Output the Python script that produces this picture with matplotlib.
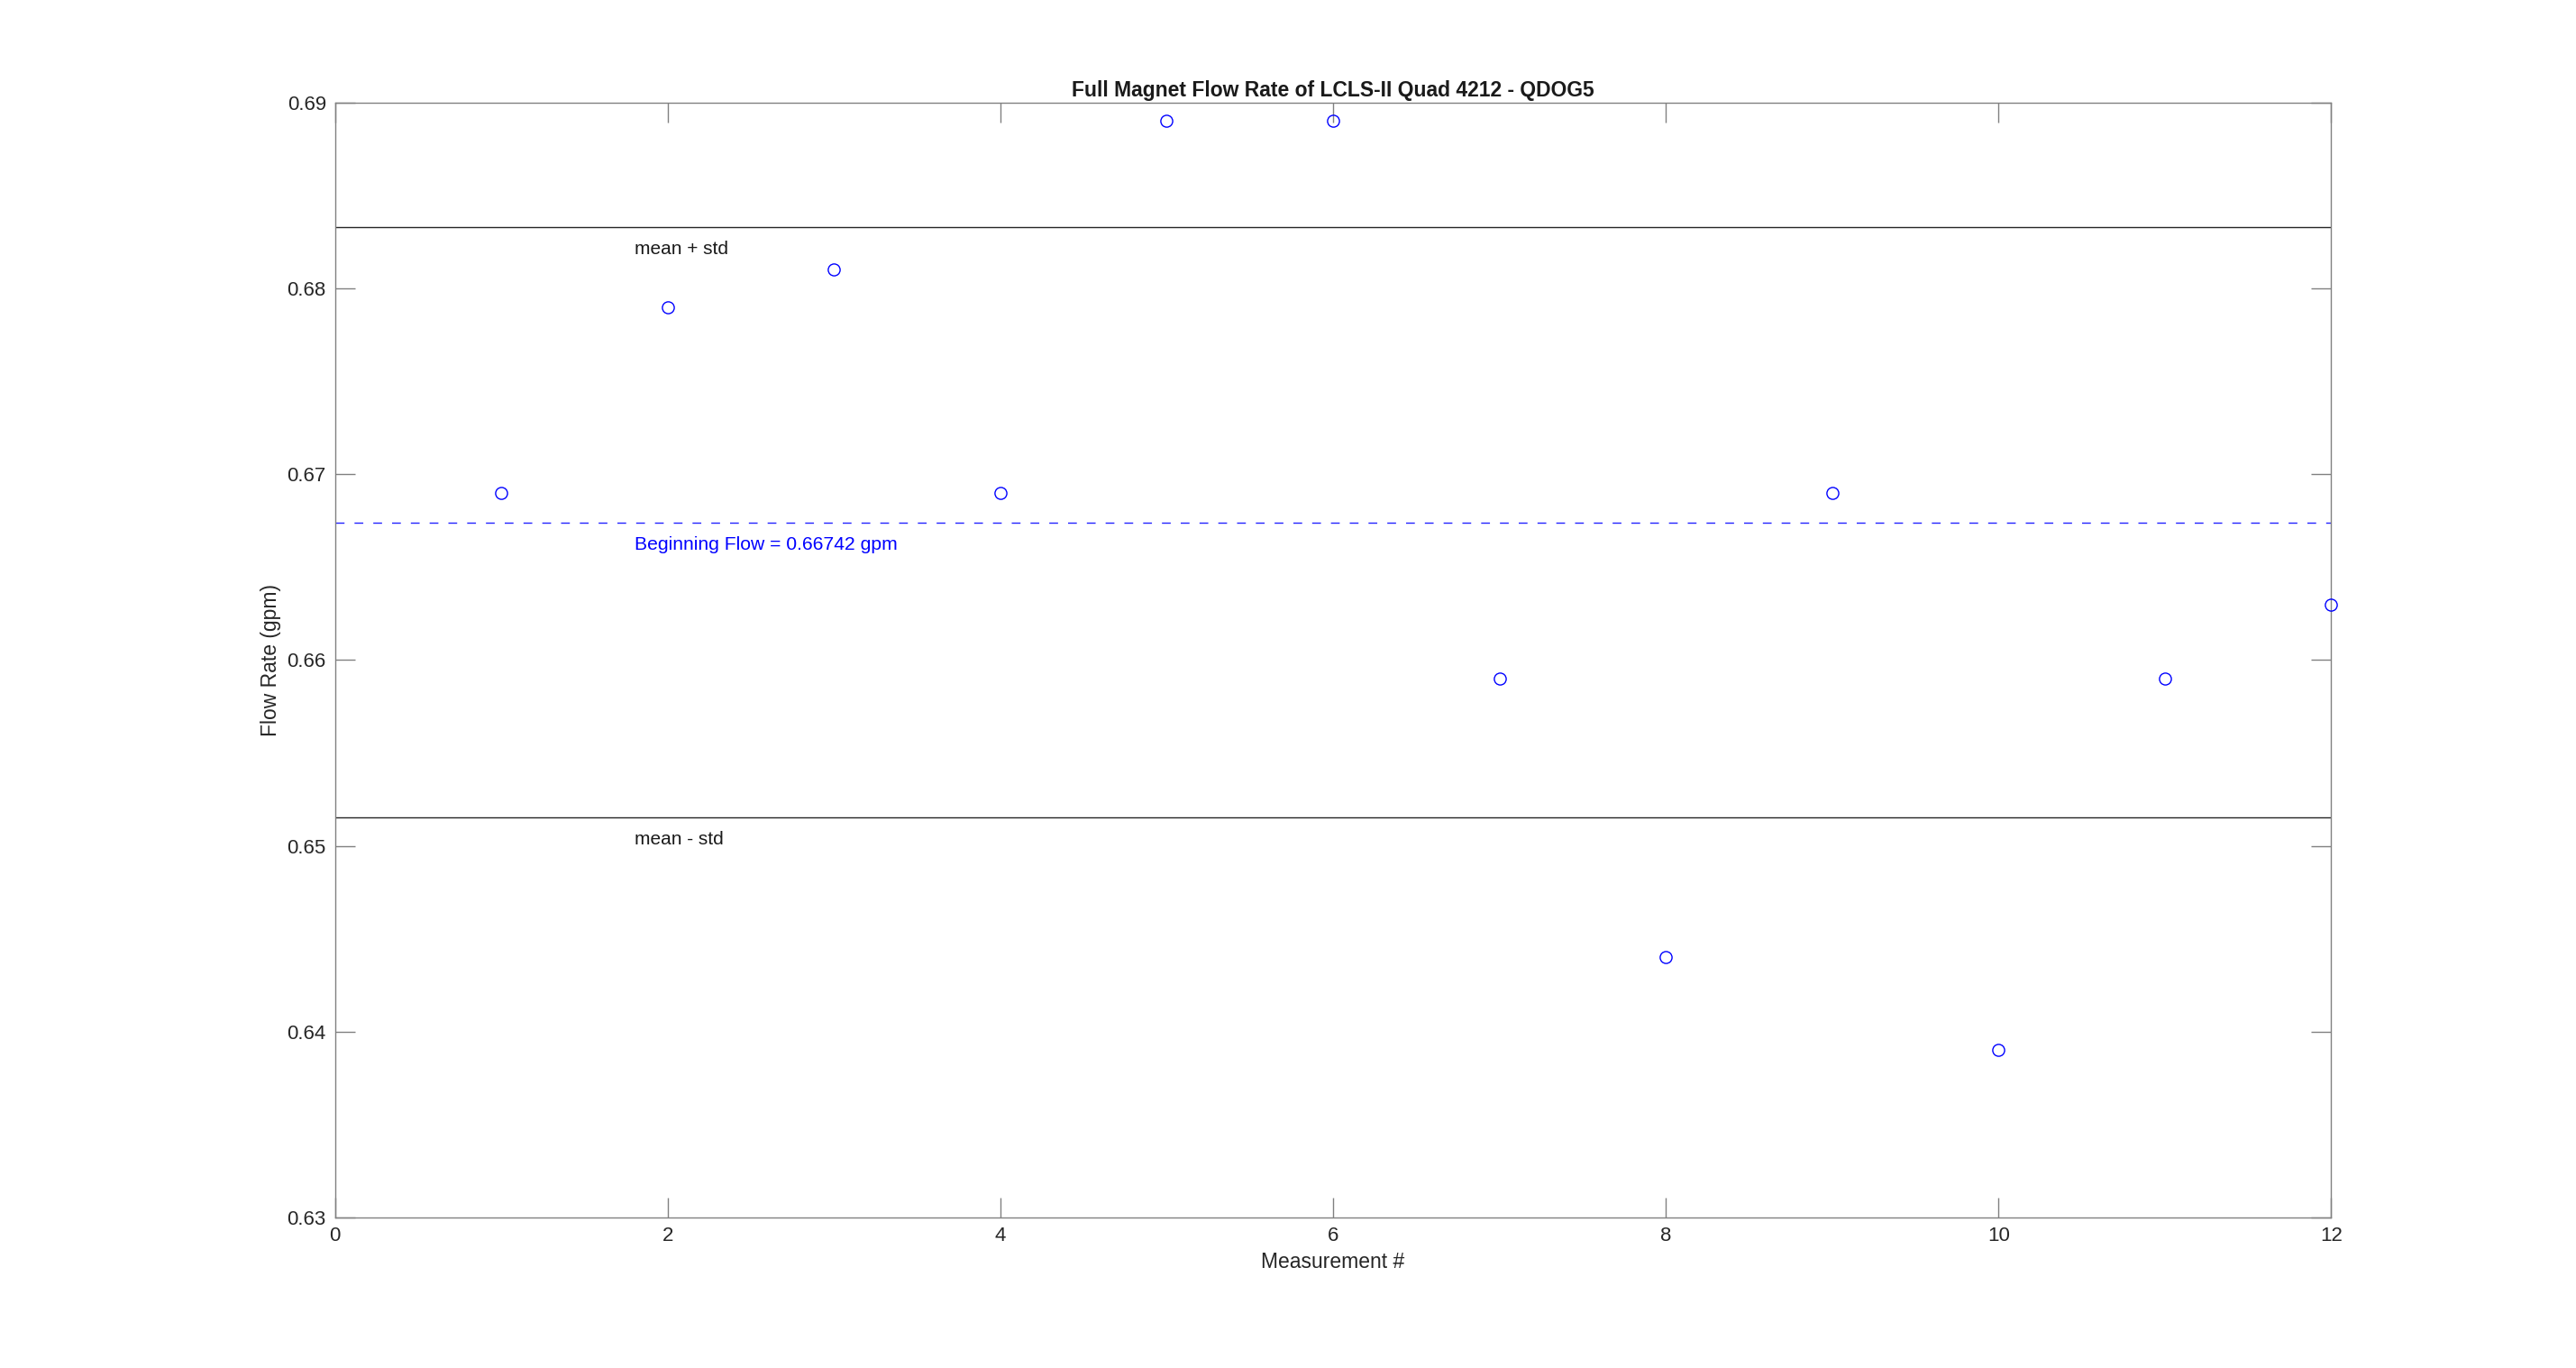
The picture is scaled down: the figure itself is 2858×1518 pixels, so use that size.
import numpy as np
import matplotlib
matplotlib.use("Agg")
import matplotlib.pyplot as plt

# flow rate readings (gpm) for each measurement
measurement = [1, 2, 3, 4, 5, 6, 7, 8, 9, 10, 11, 12]
flow = [0.669, 0.679, 0.681, 0.669, 0.689, 0.689, 0.659, 0.644, 0.669, 0.639, 0.659, 0.663]

x_ticks = [0, 2, 4, 6, 8, 10, 12]
y_ticks = [0.63, 0.64, 0.65, 0.66, 0.67, 0.68, 0.69]

mean_flow = np.mean(flow)
std_flow = np.std(flow, ddof=1)

plt.rcParams['font.family'] = ['Liberation Sans', 'DejaVu Sans']

fig = plt.figure(figsize=(28.58, 15.18), dpi=100)
ax = fig.add_axes([0.13, 0.11, 0.775, 0.815])

ax.plot(measurement, flow, 'o', mfc='none', mec='#0000ff', ms=9.5, mew=1.0, clip_on=False, zorder=5)

# std band lines and beginning flow
ax.axhline(mean_flow + std_flow, color='#262626', lw=1.0)
ax.axhline(mean_flow - std_flow, color='#262626', lw=1.0)
ax.axhline(mean_flow, color='#2222ff', lw=1.0, ls=(0, (7, 8)))

off = 0.0012
ax.text(1.8, mean_flow + std_flow - off, 'mean + std', fontsize=15, color='#1a1a1a', va='center')
ax.text(1.8, mean_flow - std_flow - off, 'mean - std', fontsize=15, color='#1a1a1a', va='center')
ax.text(1.8, mean_flow - off, 'Beginning Flow = %.5f gpm' % mean_flow, fontsize=15.2, color='#0000ff', va='center')

ax.set_xlim(0, 12)
ax.set_ylim(0.63, 0.69)
ax.set_xticks(x_ticks)
ax.set_yticks(y_ticks)
ax.set_yticklabels(['%.2f' % v for v in y_ticks])

for s in ax.spines.values():
    s.set_color('#808080')
    s.set_linewidth(1.0)
ax.tick_params(direction='in', top=True, right=True, length=16, width=1.0,
               color='#808080', labelsize=16, labelcolor='#262626', pad=7)

ax.set_xlabel('Measurement #', fontsize=16.5, color='#262626', labelpad=5)
ax.set_ylabel('Flow Rate (gpm)', fontsize=16.5, color='#262626', labelpad=5)
ax.set_title('Full Magnet Flow Rate of LCLS-II Quad 4212 - QDOG5', fontsize=16.5,
             fontweight='bold', color='#1a1a1a', pad=5)

fig.savefig('out.png', dpi=100)
